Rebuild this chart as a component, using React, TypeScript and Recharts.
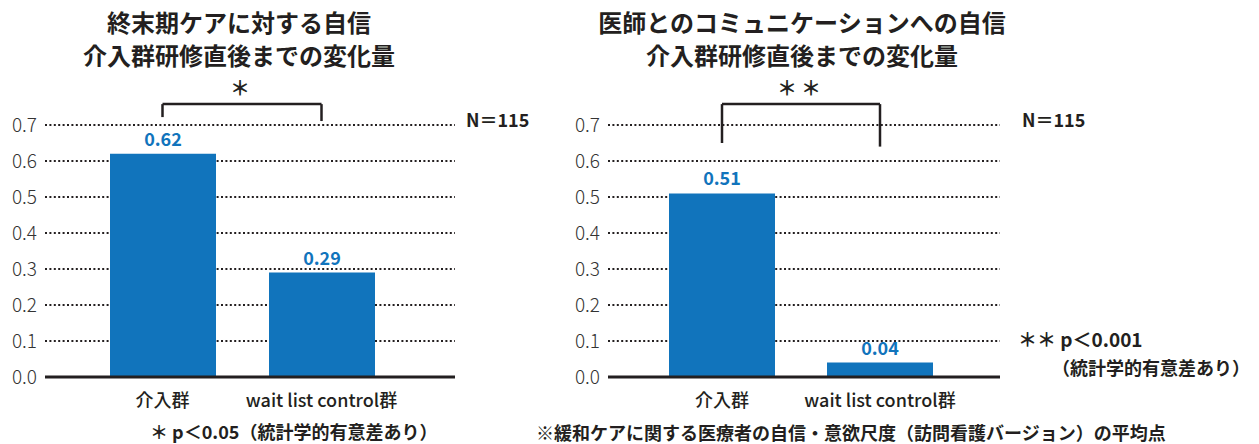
import React from "react";
import {
  Bar,
  BarChart,
  CartesianGrid,
  LabelList,
  ReferenceLine,
  XAxis,
  YAxis,
} from "recharts";

const CATEGORIES = ["介入群", "wait list control群"];
const END_OF_LIFE_VALUES = [0.62, 0.29];
const COMMUNICATION_VALUES = [0.51, 0.04];
const Y_TICKS = [0, 0.1, 0.2, 0.3, 0.4, 0.5, 0.6, 0.7];

// bracket heights (in axis units) for the significance marks
const END_OF_LIFE_BRACKET = { top: 0.758, leftFoot: 0.722, rightFoot: 0.711 };
const COMMUNICATION_BRACKET = { top: 0.758, leftFoot: 0.65, rightFoot: 0.64 };

const FONT = '"Noto Sans CJK JP", "Noto Sans", sans-serif';
const INK = "#231f20";
const BLUE = "#1174bc";

type Bracket = { top: number; leftFoot: number; rightFoot: number };

function ChangeChart({
  values,
  bracket,
  mark,
  width,
  yAxisWidth,
  marginLeft,
  marginRight,
  padLeft,
  padRight,
}: {
  values: number[];
  bracket: Bracket;
  mark: string;
  width: number;
  yAxisWidth: number;
  marginLeft: number;
  marginRight: number;
  padLeft: number;
  padRight: number;
}) {
  const data = CATEGORIES.map((name, i) => ({ name, value: values[i] }));
  const [a, b] = CATEGORIES;
  const line = { stroke: INK, strokeWidth: 2.5, ifOverflow: "visible" as const };

  return (
    <BarChart
      width={width}
      height={444}
      data={data}
      margin={{ top: 125, right: marginRight, bottom: 37, left: marginLeft }}
      style={{ fontFamily: FONT }}
    >
      <CartesianGrid
        horizontal
        vertical={false}
        stroke={INK}
        strokeWidth={2}
        strokeDasharray="2 2.4"
      />
      <XAxis
        dataKey="name"
        height={30}
        padding={{ left: padLeft, right: padRight }}
        tickLine={false}
        axisLine={{ stroke: INK, strokeWidth: 3 }}
        tick={{ fill: INK, fontSize: 18, fontWeight: 500 }}
        tickMargin={11}
        interval={0}
      />
      <YAxis
        type="number"
        domain={[0, 0.7]}
        ticks={Y_TICKS}
        width={yAxisWidth}
        axisLine={false}
        tickLine={false}
        tickSize={6}
        tickMargin={2}
        tickFormatter={(v: number) => v.toFixed(1)}
        tick={{ fill: "#333", fontSize: 19, fontWeight: 300 }}
      />
      <Bar dataKey="value" fill={BLUE} barSize={106} isAnimationActive={false}>
        <LabelList
          dataKey="value"
          position="top"
          offset={8}
          formatter={(v: number) => v.toFixed(2)}
          style={{ fill: BLUE, fontSize: 18, fontWeight: 700 }}
        />
      </Bar>
      <ReferenceLine
        {...line}
        segment={[
          { x: a, y: bracket.top },
          { x: b, y: bracket.top },
        ]}
        label={{
          value: mark,
          position: "top",
          offset: 8,
          fill: INK,
          fontSize: 20,
          fontWeight: 700,
          letterSpacing: 4,
        }}
      />
      <ReferenceLine
        {...line}
        segment={[
          { x: a, y: bracket.top },
          { x: a, y: bracket.leftFoot },
        ]}
      />
      <ReferenceLine
        {...line}
        segment={[
          { x: b, y: bracket.top },
          { x: b, y: bracket.rightFoot },
        ]}
      />
    </BarChart>
  );
}

const textBase: React.CSSProperties = {
  position: "absolute",
  fontFamily: FONT,
  color: INK,
  whiteSpace: "nowrap",
  lineHeight: 1,
};

function Title({ lines, center }: { lines: string[]; center: number }) {
  return (
    <div
      style={{
        ...textBase,
        left: center - 250,
        width: 500,
        top: 5,
        textAlign: "center",
        fontSize: 24,
        fontWeight: 600,
        lineHeight: "33px",
      }}
    >
      {lines.map((l) => (
        <div key={l}>{l}</div>
      ))}
    </div>
  );
}

function Note({
  text,
  left,
  top,
  size = 18,
}: {
  text: string;
  left: number;
  top: number;
  size?: number;
}) {
  return (
    <div style={{ ...textBase, left, top, fontSize: size, fontWeight: 700 }}>
      {text}
    </div>
  );
}

export default function App() {
  return (
    <div
      style={{
        position: "absolute",
        left: 0,
        top: 0,
        width: 1259,
        height: 444,
        background: "#fff",
        overflow: "hidden",
      }}
    >
      <div style={{ position: "absolute", left: 0, top: 0 }}>
        <ChangeChart
          values={END_OF_LIFE_VALUES}
          bracket={END_OF_LIFE_BRACKET}
          mark="＊"
          width={560}
          yAxisWidth={45}
          marginLeft={0}
          marginRight={105}
          padLeft={38}
          padRight={54}
        />
      </div>
      <div style={{ position: "absolute", left: 540, top: 0 }}>
        <ChangeChart
          values={COMMUNICATION_VALUES}
          bracket={COMMUNICATION_BRACKET}
          mark="＊＊"
          width={500}
          yAxisWidth={60}
          marginLeft={8}
          marginRight={40}
          padLeft={35}
          padRight={41}
        />
      </div>

      <Title lines={["終末期ケアに対する自信", "介入群研修直後までの変化量"]} center={239} />
      <Title
        lines={["医師とのコミュニケーションへの自信", "介入群研修直後までの変化量"]}
        center={802}
      />

      <Note text="N＝115" left={466} top={110} />
      <Note text="N＝115" left={1022} top={110} />
      <Note text="＊ p＜0.05（統計学的有意差あり）" left={150} top={422} />
      <Note text="＊＊ p＜0.001" left={1018} top={329} size={19} />
      <Note text="（統計学的有意差あり）" left={1052} top={358} />
      <Note
        text="※緩和ケアに関する医療者の自信・意欲尺度（訪問看護バージョン）の平均点"
        left={536}
        top={423}
        size={18}
      />
    </div>
  );
}
